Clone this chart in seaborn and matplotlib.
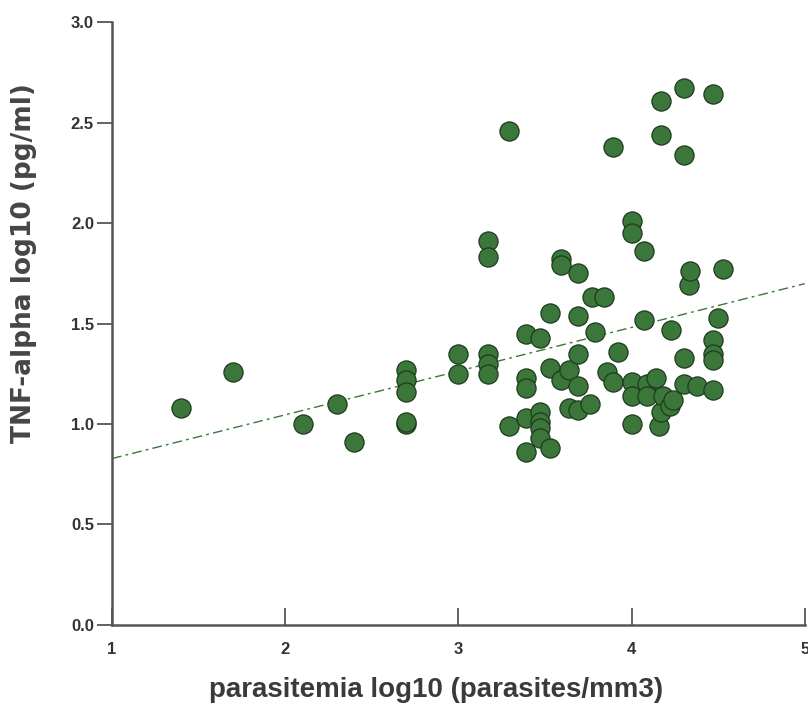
import matplotlib
matplotlib.use("Agg")
import matplotlib.pyplot as plt
import seaborn as sns
import pandas as pd

parasitemia = [1.40, 1.70, 2.10, 2.30, 2.40, 2.70, 2.70, 2.70, 2.70, 2.70,
               3.00, 3.00, 3.17, 3.17, 3.17, 3.17, 3.17,
               3.29, 3.29, 3.39, 3.39, 3.39, 3.39, 3.39, 3.47, 3.47, 3.47, 3.47, 3.47,
               3.53, 3.53, 3.53, 3.59, 3.59, 3.59, 3.64, 3.64, 3.69, 3.69, 3.69, 3.69, 3.69,
               3.76, 3.77, 3.79, 3.84, 3.86, 3.89, 3.89, 3.92,
               4.00, 4.00, 4.00, 4.00, 4.00, 4.07, 4.07, 4.09, 4.09, 4.14,
               4.16, 4.17, 4.17, 4.17, 4.18, 4.22, 4.23, 4.24,
               4.30, 4.30, 4.30, 4.30, 4.33, 4.34, 4.38,
               4.47, 4.47, 4.47, 4.47, 4.47, 4.50, 4.53]
tnf = [1.08, 1.26, 1.00, 1.10, 0.91, 1.27, 1.22, 1.16, 1.00, 1.01,
       1.35, 1.25, 1.91, 1.83, 1.35, 1.30, 1.25,
       2.46, 0.99, 1.45, 1.23, 1.18, 1.03, 0.86, 1.43, 1.06, 1.01, 0.98, 0.93,
       1.55, 1.28, 0.88, 1.82, 1.79, 1.22, 1.27, 1.08, 1.75, 1.54, 1.35, 1.19, 1.07,
       1.10, 1.63, 1.46, 1.63, 1.26, 2.38, 1.21, 1.36,
       2.01, 1.95, 1.21, 1.14, 1.00, 1.86, 1.52, 1.20, 1.14, 1.23,
       0.99, 2.61, 2.44, 1.06, 1.14, 1.09, 1.47, 1.12,
       2.67, 2.34, 1.33, 1.20, 1.69, 1.76, 1.19,
       2.64, 1.42, 1.35, 1.32, 1.17, 1.53, 1.77]

x_ticks = [1, 2, 3, 4, 5]
y_ticks = [0.0, 0.5, 1.0, 1.5, 2.0, 2.5, 3.0]
y_ticklabels = ["0.0", "0.5", "1.0", "1.5", "2.0", "2.5", "3.0"]

df = pd.DataFrame({"parasitemia": parasitemia, "tnf": tnf})

sns.set_style("white")
plt.rcParams["font.family"] = ["Liberation Sans", "DejaVu Sans"]

fig = plt.figure(figsize=(8.08, 7.15), dpi=100)
ax = fig.add_axes([0.1386, 0.126, 0.8574, 0.843])
ax.set_xlim(1, 5)
ax.set_ylim(0, 3)

green = "#3b773b"
sns.regplot(data=df, x="parasitemia", y="tnf", ax=ax, ci=None, truncate=False,
            scatter_kws=dict(s=190, color=green, edgecolor="#1e3a1e", linewidths=0.9,
                             alpha=1, zorder=3),
            line_kws=dict(color="#3b773b", lw=1.0, dashes=(7, 3, 2, 3), zorder=2))

ax.set_xlim(1, 5)
ax.set_ylim(0, 3)
ax.set_xticks(x_ticks)
ax.set_yticks(y_ticks)
ax.set_yticklabels(y_ticklabels)

for s in ["top", "right"]:
    ax.spines[s].set_visible(False)
for s in ["left", "bottom"]:
    ax.spines[s].set_color("#555555")
    ax.spines[s].set_linewidth(1.8)

ax.tick_params(axis="x", direction="in", length=12, width=1.3, color="#555555",
               labelsize=12, labelcolor="#333333", pad=12, bottom=True)
ax.tick_params(axis="y", direction="out", length=11, width=1.3, color="#555555",
               labelsize=12, labelcolor="#333333", pad=2, left=True)
for lab in ax.get_xticklabels() + ax.get_yticklabels():
    lab.set_fontweight("bold")

ax.set_xlabel("parasitemia log10 (parasites/mm3)", fontsize=20, fontweight="bold",
              color="#3a3a3a", va="center", ha="center")
ax.set_ylabel("TNF-alpha log10 (pg/ml)", fontsize=19, fontweight="bold",
              family=["DejaVu Sans"], color="#454545", va="center", ha="center")
ax.xaxis.set_label_coords(0.4675, -0.108)
ax.yaxis.set_label_coords(-0.127, 0.60)

fig.savefig("out.png", dpi=100, facecolor="white")
